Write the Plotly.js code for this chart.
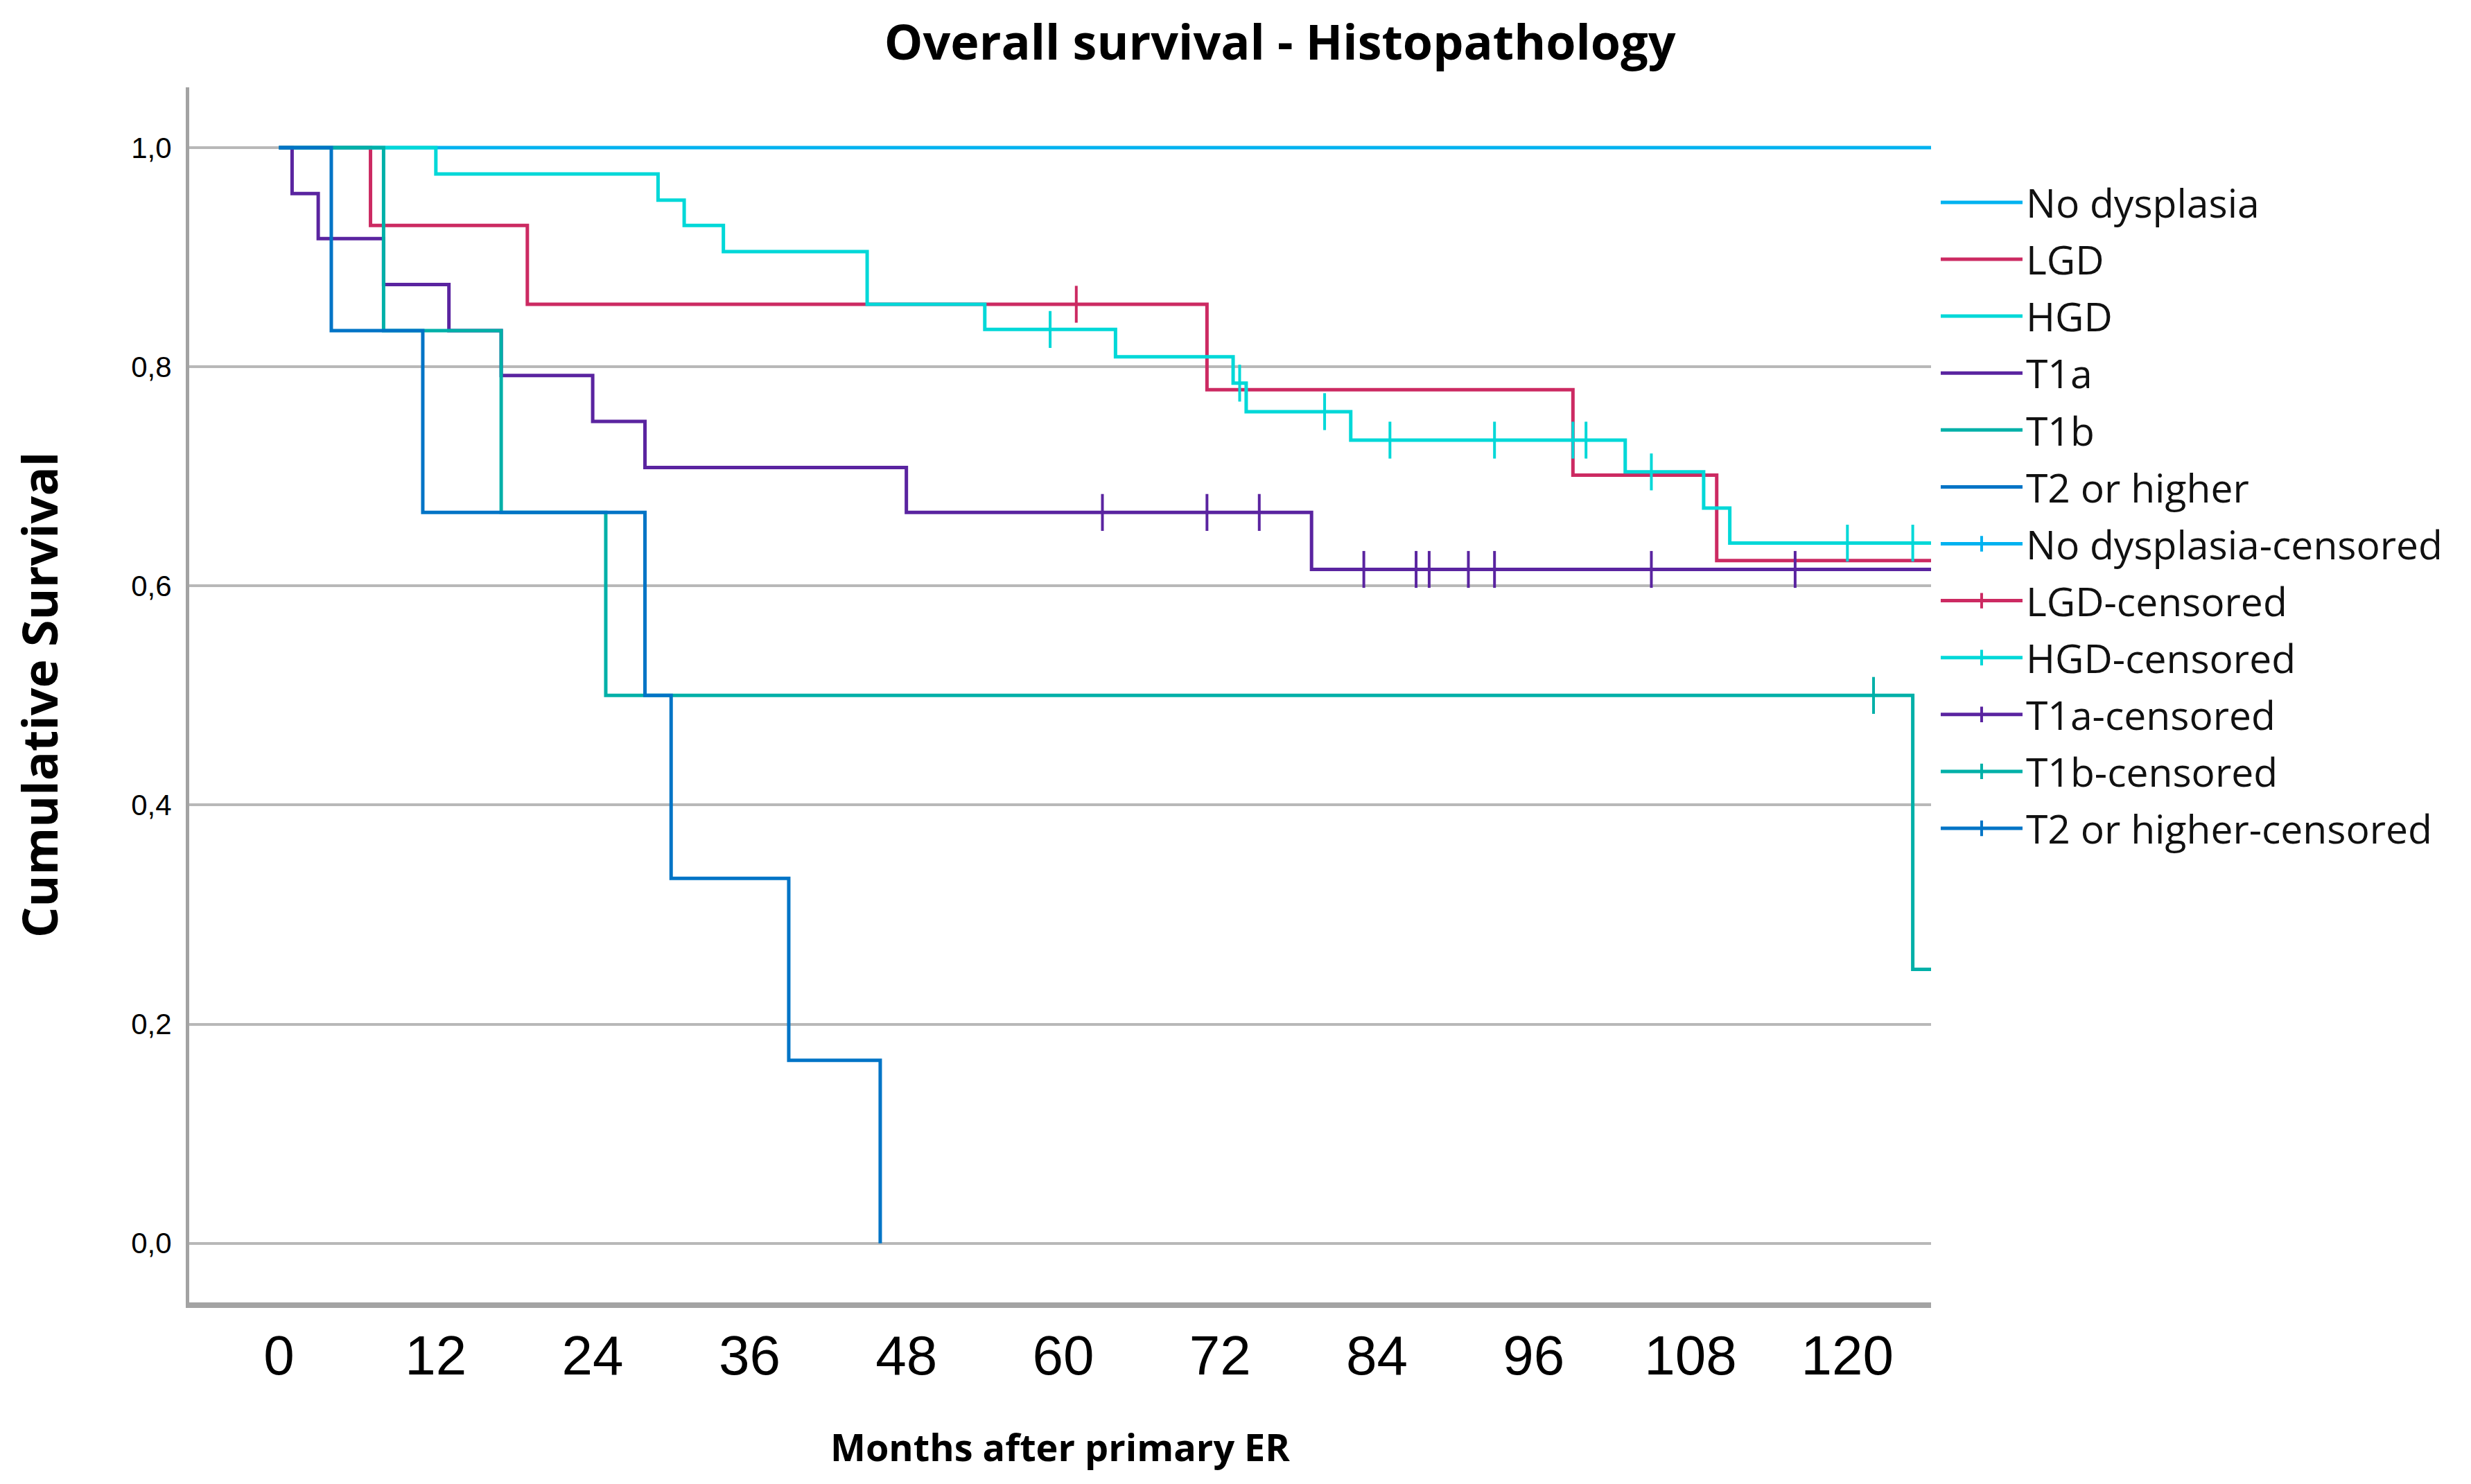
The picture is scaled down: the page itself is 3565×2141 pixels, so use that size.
<!DOCTYPE html>
<html>
<head>
<meta charset="utf-8">
<script src="https://cdn.plot.ly/plotly-3.0.1.min.js"></script>
<style>html,body{margin:0;padding:0;background:#fff;}#chart{width:3565px;height:2141px;}</style>
</head>
<body>
<div id="chart"></div>
<script>
// ---- Data (months, cumulative survival) ----
const groupNames = ["No dysplasia", "LGD", "HGD", "T1a", "T1b", "T2 or higher"];
const groupColors = ["#00b2f0", "#cc2a62", "#00d8d8", "#5a24a0", "#00b0a8", "#0074c6"];

const noDysTime = [0, 128];
const noDysSurv = [1, 1];
const noDysCensTime = [];
const noDysCensSurv = [];

const lgdTime = [0, 7, 19, 71, 99, 110, 128];
const lgdSurv = [1, 0.929, 0.857, 0.779, 0.701, 0.623, 0.623];
const lgdCensTime = [61];
const lgdCensSurv = [0.857];

const hgdTime = [0, 12, 29, 31, 34, 45, 54, 64, 73, 74, 82, 103, 109, 111, 128];
const hgdSurv = [1, 0.976, 0.952, 0.929, 0.905, 0.857, 0.834, 0.809, 0.785, 0.759, 0.733, 0.704, 0.671, 0.639, 0.639];
const hgdCensTime = [59, 73.5, 80, 85, 93, 99, 100, 105, 120, 125];
const hgdCensSurv = [0.834, 0.785, 0.759, 0.733, 0.733, 0.733, 0.733, 0.704, 0.639, 0.639];

const t1aTime = [0, 1, 3, 8, 13, 17, 24, 28, 48, 79, 128];
const t1aSurv = [1, 0.958, 0.917, 0.875, 0.833, 0.792, 0.750, 0.708, 0.667, 0.615, 0.615];
const t1aCensTime = [63, 71, 75, 83, 87, 88, 91, 93, 105, 116];
const t1aCensSurv = [0.667, 0.667, 0.667, 0.615, 0.615, 0.615, 0.615, 0.615, 0.615, 0.615];

const t1bTime = [0, 8, 17, 25, 125, 128];
const t1bSurv = [1, 0.833, 0.667, 0.5, 0.25, 0.25];
const t1bCensTime = [122];
const t1bCensSurv = [0.5];

const t2Time = [0, 4, 11, 28, 30, 39, 46];
const t2Surv = [1, 0.833, 0.667, 0.5, 0.333, 0.167, 0];
const t2CensTime = [];
const t2CensSurv = [];

const xTickVals = [0, 12, 24, 36, 48, 60, 72, 84, 96, 108, 120];
const yTickVals = [0, 0.2, 0.4, 0.6, 0.8, 1.0];
const yTickText = ["0,0", "0,2", "0,4", "0,6", "0,8", "1,0"];

// ---- Build traces ----
const curves = [
  [noDysTime, noDysSurv], [lgdTime, lgdSurv], [hgdTime, hgdSurv],
  [t1aTime, t1aSurv], [t1bTime, t1bSurv], [t2Time, t2Surv]
];
const censors = [
  [noDysCensTime, noDysCensSurv], [lgdCensTime, lgdCensSurv], [hgdCensTime, hgdCensSurv],
  [t1aCensTime, t1aCensSurv], [t1bCensTime, t1bCensSurv], [t2CensTime, t2CensSurv]
];

function separated(arr) {
  const out = [];
  arr.forEach((v, i) => { if (i > 0) out.push(null); out.push(v); });
  return out.length ? out : [null];
}

const traces = [];
curves.forEach((c, i) => {
  traces.push({
    type: "scatter", mode: "lines", x: c[0], y: c[1],
    name: groupNames[i], legendgroup: "g" + i,
    line: { shape: "hv", color: groupColors[i], width: 5 },
    hoverinfo: "skip"
  });
});
censors.forEach((c, i) => {
  traces.push({
    type: "scatter", mode: "lines+markers",
    x: separated(c[0]), y: separated(c[1]), connectgaps: false,
    name: groupNames[i] + "-censored", legendgroup: "c" + i,
    line: { color: groupColors[i], width: 5 },
    marker: { symbol: "line-ns", size: 38, color: groupColors[i],
              line: { color: groupColors[i], width: 4 } },
    hoverinfo: "skip", cliponaxis: false
  });
});

const layout = {
  width: 3565, height: 2141, autosize: false,
  paper_bgcolor: "#ffffff", plot_bgcolor: "#ffffff",
  margin: { l: 273, r: 779, t: 126, b: 262, pad: 0 },
  showlegend: true,
  title: {
    text: "<b>Overall survival - Histopathology</b>",
    xref: "container", yref: "container", x: 0.518, xanchor: "center",
    y: 0.9715, yanchor: "middle",
    font: { family: "Open Sans", size: 70, color: "#000" }
  },
  xaxis: {
    range: [-6.87, 126.4], tickvals: xTickVals, ticktext: xTickVals.map(String),
    showgrid: false, zeroline: false, ticks: "",
    showline: true, linecolor: "#a3a3a3", linewidth: 8,
    tickfont: { family: "Liberation Sans", size: 80, color: "#000" },
    ticklabelstandoff: 0,
    title: { text: "<b>Months after primary ER</b>", standoff: 74,
             font: { family: "Open Sans", size: 54, color: "#000" } }
  },
  yaxis: {
    range: [-0.054, 1.055], tickvals: yTickVals, ticktext: yTickText,
    showgrid: true, gridcolor: "#b8b8b8", gridwidth: 4, zeroline: false, ticks: "",
    showline: true, linecolor: "#a3a3a3", linewidth: 5,
    tickfont: { family: "Liberation Sans", size: 42, color: "#000" },
    ticklabelstandoff: 12,
    title: { text: "<b>Cumulative Survival</b>", standoff: 84,
             font: { family: "Open Sans", size: 70, color: "#000" } }
  },
  legend: {
    xref: "container", yref: "container",
    x: 0.784, xanchor: "left", y: 0.884, yanchor: "top",
    traceorder: "grouped", tracegroupgap: 5,
    itemwidth: 118, bgcolor: "rgba(0,0,0,0)", borderwidth: 0,
    font: { family: "Open Sans", size: 57, color: "#111" }
  }
};

Plotly.newPlot("chart", traces, layout, { staticPlot: true, displayModeBar: false });
</script>
</body>
</html>
